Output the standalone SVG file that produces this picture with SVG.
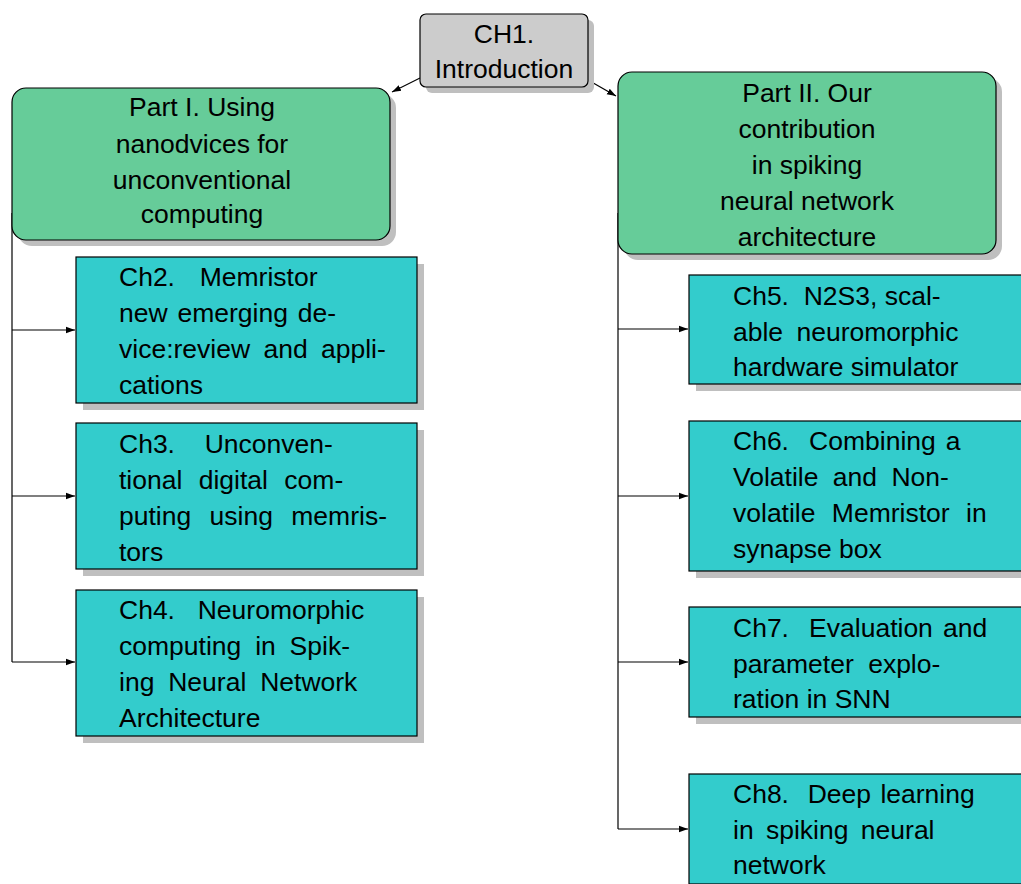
<svg xmlns="http://www.w3.org/2000/svg" width="1021" height="884" viewBox="0 0 1021 884">
<style>
text{font-family:"Liberation Sans",Arial,sans-serif;font-size:26.5px;fill:#000;white-space:pre}
.c{text-anchor:middle}
.sh{fill:#bfbfbf}
.gray{fill:#cccccc;stroke:#000;stroke-width:1.2}
.green{fill:#66cc99;stroke:#000;stroke-width:1.2}
.cyan{fill:#33cccc;stroke:#000;stroke-width:1.2}
.ln{fill:none;stroke:#000;stroke-width:1.2}
</style>
<defs>
<marker id="ah" viewBox="0 0 10 10" refX="10" refY="5" markerWidth="9" markerHeight="9" markerUnits="userSpaceOnUse" orient="auto">
<path d="M0,1.5 L10,5 L0,8.5 Z" fill="#000"/>
</marker>
</defs>
<g id="connectors">
<path class="ln" d="M420,78 L392,92" marker-end="url(#ah)"/>
<path class="ln" d="M588,80 L616,96" marker-end="url(#ah)"/>
<path class="ln" d="M12,213 L12,662"/>
<path class="ln" d="M12,330 L75,330" marker-end="url(#ah)"/>
<path class="ln" d="M12,496 L75,496" marker-end="url(#ah)"/>
<path class="ln" d="M12,662 L75,662" marker-end="url(#ah)"/>
<path class="ln" d="M618,213 L618,829"/>
<path class="ln" d="M618,329 L688,329" marker-end="url(#ah)"/>
<path class="ln" d="M618,496 L688,496" marker-end="url(#ah)"/>
<path class="ln" d="M618,662 L688,662" marker-end="url(#ah)"/>
<path class="ln" d="M618,829 L688,829" marker-end="url(#ah)"/>
</g>
<g id="ch1">
<rect class="sh" x="426" y="20" width="168" height="73" rx="6"/>
<rect class="gray" x="420" y="14" width="168" height="73" rx="6"/>
<text class="c" x="504" y="43">CH1.</text>
<text class="c" x="504" y="78">Introduction</text>
</g>
<g id="part1">
<rect class="sh" x="18" y="94" width="378" height="152" rx="14"/>
<rect class="green" x="12" y="88" width="378" height="152" rx="14"/>
<text class="c" x="202" y="116">Part I. Using</text>
<text class="c" x="202" y="153">nanodvices for</text>
<text class="c" x="202" y="189">unconventional</text>
<text class="c" x="202" y="223">computing</text>
</g>
<g id="part2">
<rect class="sh" x="624" y="78" width="378" height="182" rx="14"/>
<rect class="green" x="618" y="72" width="378" height="182" rx="14"/>
<text class="c" x="807" y="102">Part II. Our</text>
<text class="c" x="807" y="138">contribution</text>
<text class="c" x="807" y="174">in spiking</text>
<text class="c" x="807" y="210">neural network</text>
<text class="c" x="807" y="246">architecture</text>
</g>
<g id="ch2">
<rect class="sh" x="83" y="264" width="341" height="146"/>
<rect class="cyan" x="76" y="257" width="341" height="146"/>
<text x="119" y="286" word-spacing="5">Ch2.  Memristor</text>
<text x="119" y="322" word-spacing="2.5">new emerging de-</text>
<text x="119" y="358" word-spacing="6">vice:review and appli-</text>
<text x="119" y="394">cations</text>
</g>
<g id="ch3">
<rect class="sh" x="83" y="430" width="341" height="146"/>
<rect class="cyan" x="76" y="423" width="341" height="146"/>
<text x="119" y="453" word-spacing="7.5">Ch3.  Unconven-</text>
<text x="119" y="489" word-spacing="9">tional digital com-</text>
<text x="119" y="525" word-spacing="11">puting using memris-</text>
<text x="119" y="561">tors</text>
</g>
<g id="ch4">
<rect class="sh" x="83" y="597" width="341" height="146"/>
<rect class="cyan" x="76" y="590" width="341" height="146"/>
<text x="119" y="619" word-spacing="4">Ch4.  Neuromorphic</text>
<text x="119" y="655" word-spacing="6.5">computing in Spik-</text>
<text x="119" y="691" word-spacing="6.5">ing Neural Network</text>
<text x="119" y="727">Architecture</text>
</g>
<g id="ch5">
<rect class="sh" x="696" y="282" width="341" height="109"/>
<rect class="cyan" x="689" y="275" width="341" height="109"/>
<text x="733" y="305">Ch5.  N2S3, scal-</text>
<text x="733" y="341" word-spacing="6">able neuromorphic</text>
<text x="733" y="376">hardware simulator</text>
</g>
<g id="ch6">
<rect class="sh" x="696" y="428" width="341" height="150"/>
<rect class="cyan" x="689" y="421" width="341" height="150"/>
<text x="733" y="450" word-spacing="2.7">Ch6.  Combining a</text>
<text x="733" y="486" word-spacing="7">Volatile and Non-</text>
<text x="733" y="522" word-spacing="9">volatile Memristor in</text>
<text x="733" y="558">synapse box</text>
</g>
<g id="ch7">
<rect class="sh" x="696" y="614" width="341" height="110"/>
<rect class="cyan" x="689" y="607" width="341" height="110"/>
<text x="733" y="637" word-spacing="2.7">Ch7.  Evaluation and</text>
<text x="733" y="673" word-spacing="7">parameter explo-</text>
<text x="733" y="708">ration in SNN</text>
</g>
<g id="ch8">
<rect class="sh" x="696" y="781" width="341" height="110"/>
<rect class="cyan" x="689" y="774" width="341" height="110"/>
<text x="733" y="803" word-spacing="2">Ch8.  Deep learning</text>
<text x="733" y="839" word-spacing="5">in spiking neural</text>
<text x="733" y="874">network</text>
</g>
</svg>
